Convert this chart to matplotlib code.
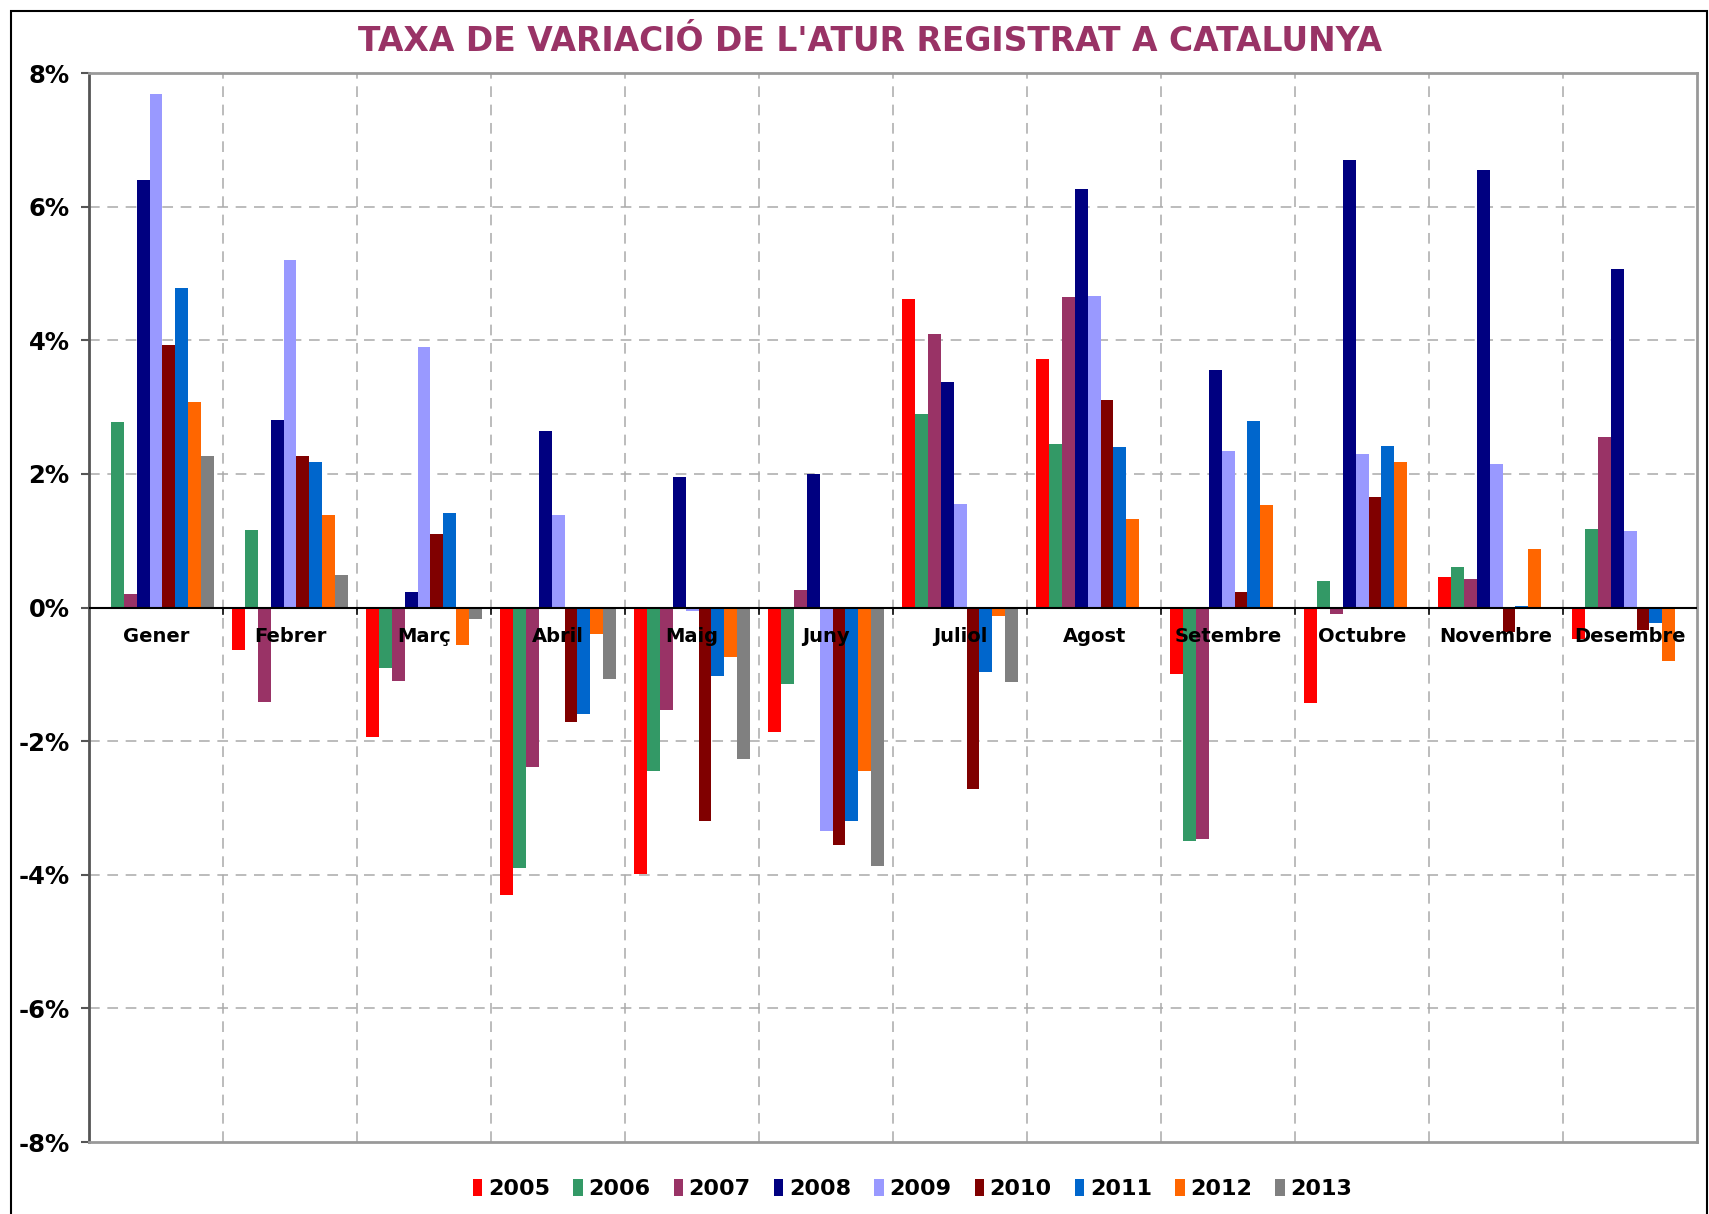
import numpy as np
import matplotlib
matplotlib.use("Agg")
import matplotlib.pyplot as plt
from matplotlib.patches import Rectangle

# Monthly variation of registered unemployment in Catalonia (%)
months = ["Gener", "Febrer", "Març", "Abril", "Maig", "Juny", "Juliol",
          "Agost", "Setembre", "Octubre", "Novembre", "Desembre"]
years = ["2005", "2006", "2007", "2008", "2009", "2010", "2011", "2012", "2013"]
nan = np.nan

v2005 = [nan, -0.64, -1.94, -4.31, -3.99, -1.86, 4.62, 3.72, -1.00, -1.43, 0.46, -0.47]
v2006 = [2.77, 1.16, -0.91, -3.90, -2.44, -1.14, 2.89, 2.45, -3.50, 0.39, 0.61, 1.17]
v2007 = [0.21, -1.42, -1.10, -2.39, -1.54, 0.27, 4.10, 4.65, -3.47, -0.09, 0.43, 2.55]
v2008 = [6.40, 2.80, 0.24, 2.65, 1.96, 2.00, 3.38, 6.27, 3.55, 6.70, 6.55, 5.06]
v2009 = [7.68, 5.20, 3.90, 1.39, -0.05, -3.34, 1.55, 4.67, 2.35, 2.30, 2.15, 1.14]
v2010 = [3.93, 2.27, 1.10, -1.71, -3.19, -3.56, -2.72, 3.10, 0.23, 1.66, -0.36, -0.33]
v2011 = [4.78, 2.18, 1.42, -1.60, -1.03, -3.19, -0.97, 2.41, 2.79, 2.42, 0.02, -0.23]
v2012 = [3.07, 1.38, -0.56, -0.40, -0.74, -2.44, -0.13, 1.32, 1.54, 2.18, 0.88, -0.80]
v2013 = [2.27, 0.49, -0.17, -1.07, -2.27, -3.87, -1.12, nan, nan, nan, nan, nan]

series = [v2005, v2006, v2007, v2008, v2009, v2010, v2011, v2012, v2013]
colors = ["#FF0000", "#339966", "#993366", "#000080", "#9999FF",
          "#800000", "#0066CC", "#FF6600", "#808080"]

yticks = [-8, -6, -4, -2, 0, 2, 4, 6, 8]
ytick_labels = ["-8%", "-6%", "-4%", "-2%", "0%", "2%", "4%", "6%", "8%"]

plt.rcParams['font.family'] = ['DejaVu Sans']

fig = plt.figure(figsize=(17.09, 12.14), dpi=100)
ax = fig.add_axes([0.0521, 0.0593, 0.941, 0.8805])

x = np.arange(len(months))
w = 0.0958
for k, (vals, col, yr) in enumerate(zip(series, colors, years)):
    ax.bar(x + (k - 4) * w, vals, width=w, color=col, label=yr, zorder=3)

ax.set_xlim(-0.5, len(months) - 0.5)
ax.set_ylim(-8, 8)
ax.set_yticks(yticks)
ax.set_yticklabels(ytick_labels, fontsize=17.5, fontweight='bold')
ax.tick_params(axis='y', length=6, width=1.5, color='#555555', pad=8)
ax.set_xticks([])

# dashed grid
for xb in np.arange(0.5, len(months) - 0.5, 1.0):
    ax.axvline(xb, color='#aaaaaa', linestyle=(0, (7, 5)), linewidth=1.1, zorder=1)
for yv in yticks[1:-1]:
    if yv != 0:
        ax.axhline(yv, color='#aaaaaa', linestyle=(0, (7, 5)), linewidth=1.1, zorder=1)
ax.axhline(0, color='black', linewidth=1.5, zorder=4)

# small tick marks on the zero line
for xb in np.arange(0.5, len(months) - 0.5, 1.0):
    ax.plot([xb, xb], [0, -0.1], color='black', linewidth=1.2, zorder=4)

# month labels
for xi, m in zip(x, months):
    ax.text(xi, -0.44, m, ha='center', va='center', fontsize=14,
            fontweight='bold', zorder=6)

ax.spines['left'].set_color('#555555')
ax.spines['left'].set_linewidth(2)
for s in ['top', 'bottom', 'right']:
    ax.spines[s].set_color('#999999')
    ax.spines[s].set_linewidth(2)

fig.text(0.509, 0.966, "TAXA DE VARIACIÓ DE L'ATUR REGISTRAT A CATALUNYA",
         ha='center', va='center', fontsize=23.8, fontweight='bold', color='#993366')

leg = fig.legend(loc='center', bbox_to_anchor=(0.534, 0.0206), ncol=9,
                 frameon=False, prop={'weight': 'bold', 'size': 16},
                 handlelength=0.42, handleheight=0.8, handletextpad=0.25,
                 columnspacing=1.05)

# chart area border
fig.add_artist(Rectangle((11 / 1709, -0.05), (1707 - 11) / 1709, 1.05 - 11 / 1214,
                         transform=fig.transFigure, fill=False,
                         edgecolor='black', linewidth=1.5))

fig.savefig("out.png", dpi=100)
